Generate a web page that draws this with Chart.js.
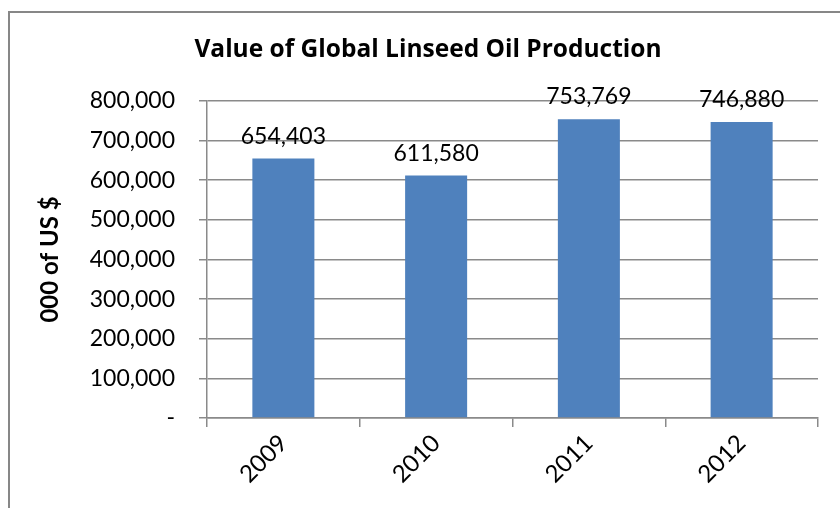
<!DOCTYPE html>
<html>
<head>
<meta charset="utf-8">
<script src="https://cdn.jsdelivr.net/npm/chart.js@4.4.1/dist/chart.umd.min.js"></script>
<style>
  html, body { margin: 0; padding: 0; background: #fff; }
  #wrap { position: relative; width: 840px; height: 508px; overflow: hidden; }
  #frame { position: absolute; left: 8px; top: 11px; width: 900px; height: 600px;
           border: 2px solid #878787; box-sizing: border-box; }
  #linseedChart { position: absolute; left: 0; top: 0; }
</style>
</head>
<body>
<div id="wrap">
  <div id="frame"></div>
  <canvas id="linseedChart" width="840" height="508"></canvas>
</div>
<script>
  const years = ['2009', '2010', '2011', '2012'];
  const productionValue = [654403, 611580, 753769, 746880];
  const yTicks = [0, 100000, 200000, 300000, 400000, 500000, 600000, 700000, 800000];

  const gridGray = '#8a8a8a';
  const barBlue = '#4f81bd';
  const fontFamily = 'Lato, "Open Sans", sans-serif';

  // numbers on top of each bar
  const barValueLabels = {
    id: 'barValueLabels',
    afterDatasetsDraw(chart) {
      const ctx = chart.ctx;
      const meta = chart.getDatasetMeta(0);
      ctx.save();
      ctx.font = '23px ' + fontFamily;
      ctx.fillStyle = '#000';
      ctx.textAlign = 'center';
      ctx.textBaseline = 'alphabetic';
      meta.data.forEach((bar, i) => {
        ctx.fillText(productionValue[i].toLocaleString('en-US'), bar.x, bar.y - 15);
      });
      ctx.restore();
    }
  };

  const ctx = document.getElementById('linseedChart').getContext('2d');
  const myChart = new Chart(ctx, {
    type: 'bar',
    plugins: [barValueLabels],
    data: {
      labels: years,
      datasets: [{
        data: productionValue,
        backgroundColor: barBlue,
        borderWidth: 0,
        barPercentage: 0.406,
        categoryPercentage: 1
      }]
    },
    options: {
      responsive: false,
      animation: false,
      layout: { padding: { left: 38, right: 22, top: 0, bottom: 0 } },
      plugins: {
        legend: { display: false },
        tooltip: { enabled: false },
        title: {
          display: true,
          text: 'Value of Global Linseed Oil Production',
          color: '#000',
          // Open Sans here: Lato joins "ti" into a ligature
          font: { family: '"Open Sans", Lato, sans-serif', size: 24.5, weight: 'bold', lineHeight: 1.2 },
          padding: { top: 35, bottom: 36.5 }
        }
      },
      scales: {
        x: {
          grid: {
            offset: true,
            drawOnChartArea: false,
            drawTicks: true,
            tickLength: 9,
            color: gridGray,
            lineWidth: 1.5
          },
          border: { color: gridGray, width: 1.5 },
          ticks: {
            color: '#000',
            font: { family: fontFamily, size: 24 },
            minRotation: 45,
            maxRotation: 45,
            padding: 2
          },
          afterFit(scale) { scale.height = 90; }
        },
        y: {
          min: 0,
          max: 800000,
          afterBuildTicks(scale) { scale.ticks = yTicks.map(v => ({ value: v })); },
          grid: {
            color: gridGray,
            lineWidth: 1.5,
            drawTicks: true,
            tickLength: 8
          },
          border: { color: gridGray, width: 1.5 },
          ticks: {
            color: '#000',
            font: { family: fontFamily, size: 23 },
            padding: 24,
            callback: v => v === 0 ? '-' : v.toLocaleString('en-US')
          },
          title: {
            display: true,
            text: '000 of US $',
            color: '#000',
            font: { family: fontFamily, size: 24, weight: 'bold', lineHeight: 1.2 },
            padding: { top: -2, bottom: 0 }
          },
          afterFit(scale) { scale.width = 169; }
        }
      }
    }
  });
</script>
</body>
</html>
